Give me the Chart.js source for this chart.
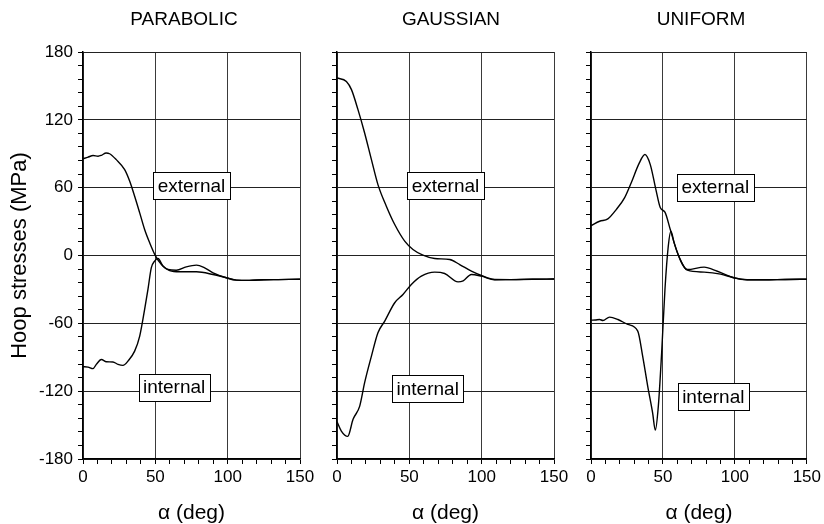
<!DOCTYPE html>
<html><head><meta charset="utf-8">
<script src="https://cdn.jsdelivr.net/npm/chart.js@4.4.1/dist/chart.umd.min.js"></script>
<style>
html,body{margin:0;padding:0;background:#fff;}
#wrap{position:relative;width:824px;height:524px;background:#fff;}
canvas{position:absolute;left:0;top:0;}
</style></head><body>
<div id="wrap">
<canvas id="c0" width="824" height="524"></canvas>
<canvas id="c1" width="824" height="524"></canvas>
<canvas id="c2" width="824" height="524"></canvas>
</div>
<script>
// ---------- data ----------
const panelTitles = ['PARABOLIC', 'GAUSSIAN', 'UNIFORM'];
const xAxisTitle = 'α (deg)';
const yAxisTitle = 'Hoop stresses (MPa)';
const seriesNames = ['external', 'internal'];

// PARABOLIC
const parExtAlpha = [0, 3.5, 7, 10.4, 12.7, 16, 18.4, 23, 28.8, 32.3, 35.7, 39.2, 42.6, 46.1, 50.2, 54.2, 58.8, 64.5, 71.4, 78.4, 84.1, 89.9, 99.1, 106, 115, 125, 135, 150];
const parExtStress = [85.5, 87, 88.4, 87.8, 88.6, 90.7, 90, 84.8, 76, 65.7, 52.4, 37.7, 23, 11.2, -0.6, -8, -12.4, -13, -10, -8.5, -10.9, -15.3, -19.7, -21.8, -22, -21.5, -21.3, -21];
const parIntAlpha = [0, 3.5, 6.9, 9.2, 12.7, 16.1, 20.7, 24.2, 27.6, 31.1, 35.7, 39.2, 42.6, 44.9, 47.2, 49.5, 51.8, 55.3, 59.9, 66.8, 78.4, 89.9, 99.1, 106, 115, 125, 135, 150];
const parIntStress = [-98.4, -98.7, -100.1, -96.3, -92, -94, -94.2, -96.3, -97.2, -93.4, -84.6, -71.3, -47.7, -30, -10.9, -5, -2.7, -9.4, -13.3, -14.4, -14.4, -16.8, -19.7, -21.8, -22, -21.5, -21.3, -21];

// GAUSSIAN
const gauExtAlpha = [0, 6.5, 10, 14.5, 19.1, 23.8, 28.3, 34.1, 39.9, 46.8, 52.5, 59.4, 67.5, 77.9, 84.8, 92.9, 99.8, 109, 120, 135, 150];
const gauExtStress = [157, 154, 146.7, 129, 108.4, 84.8, 62.7, 43.6, 27.4, 12.7, 5.3, 0.3, -2.7, -3.5, -8, -13.9, -17.7, -21.2, -21.3, -21, -20.8];
const gauIntAlpha = [0, 3, 7.4, 11.1, 15.7, 19.1, 23.8, 28.3, 33, 39.9, 45.6, 51.4, 58.3, 67.5, 74.4, 83.7, 87.2, 92.9, 99.8, 109, 120, 135, 150];
const gauIntStress = [-147, -155.3, -160, -144.9, -133.2, -112.5, -89, -68.3, -58, -41.8, -34.5, -25.6, -18.3, -14.7, -15.9, -23.3, -22.4, -16.8, -18.3, -21.5, -21.3, -21, -20.8];

// UNIFORM
const uniExtAlpha = [0, 6, 11.7, 17.5, 23.3, 27.9, 33.6, 37.5, 41.2, 45.1, 48.2, 51.4, 55.1, 60.1, 67, 78.6, 87.8, 99.3, 108.5, 120, 135, 150];
const uniExtStress = [26.5, 30.3, 32.4, 40.6, 51, 64.2, 81.9, 89.3, 80.4, 58.3, 42.2, 38.3, 23, 2.4, -12.4, -10.3, -13.9, -19.7, -21.5, -21.5, -21.2, -21];
const uniIntAlpha = [0, 3, 6, 8.3, 12.9, 18.7, 25.6, 32.5, 35.9, 39.4, 42.8, 44.7, 46.8, 49.1, 51.4, 53.7, 55.5, 57.8, 62.4, 67, 78.6, 90.1, 99.3, 108.5, 120, 135, 150];
const uniIntStress = [-57.2, -57, -56.6, -57.5, -54.5, -56.6, -61, -66.9, -89, -115.5, -139, -154.5, -133.2, -86, -30, 8.2, 21.5, 11.2, -5, -13, -14.7, -16.5, -19.7, -21.5, -21.5, -21.2, -21];

// axis ranges & ticks
const xMin = 0, xMax = 150, xMinorStep = 10, xMajorStep = 50;
const yMin = -180, yMax = 180, yMinorStep = 12, yMajorStep = 60;

// in-plot label anchors (data coordinates: alpha, stress)
const extLabelAlpha = [75, 75, 86.4];
const extLabelStress = [62, 62, 60.4];
const intLabelAlpha = [63, 62.7, 85];
const intLabelStress = [-116.5, -117.8, -124.6];

// ---------- layout ----------
const FONT = '"Liberation Sans", Arial, Helvetica, sans-serif';
const panelLeft = [83, 337, 591];
const panelRight = [300, 554, 807];
const titleCenterX = [184, 451, 701];
const W = 824, H = 524, TOP = 52, XAXIS_H = 65;

const series = [
  [[parExtAlpha, parExtStress], [parIntAlpha, parIntStress]],
  [[gauExtAlpha, gauExtStress], [gauIntAlpha, gauIntStress]],
  [[uniExtAlpha, uniExtStress], [uniIntAlpha, uniIntStress]]
];

function toPoints(xs, ys) { return xs.map((x, k) => ({x: x, y: ys[k]})); }

const annotPlugin = {
  id: 'annot',
  afterDatasetsDraw(chart) {
    const i = chart.options.panelIndex;
    const {ctx, scales} = chart;
    ctx.save();
    ctx.font = '19px ' + FONT;
    ctx.textAlign = 'center';
    ctx.textBaseline = 'middle';
    const labs = [
      [seriesNames[0], extLabelAlpha[i], extLabelStress[i]],
      [seriesNames[1], intLabelAlpha[i], intLabelStress[i]]
    ];
    for (const [txt, ax, sy] of labs) {
      const px = scales.x.getPixelForValue(ax);
      const py = scales.y.getPixelForValue(sy);
      const tw = ctx.measureText(txt).width;
      const bw = Math.round(tw + 9), bh = 27;
      const bx = Math.round(px - bw / 2) + 0.5, by = Math.round(py - bh / 2) + 0.5;
      ctx.fillStyle = '#fff';
      ctx.fillRect(bx, by, bw, bh);
      ctx.strokeStyle = '#000';
      ctx.lineWidth = 1;
      ctx.strokeRect(bx, by, bw, bh);
      ctx.fillStyle = '#000';
      ctx.fillText(txt, px, py + 1);
    }
    ctx.restore();
  },
  afterDraw(chart) {
    const i = chart.options.panelIndex;
    const ctx = chart.ctx;
    ctx.save();
    ctx.font = '19px ' + FONT;
    ctx.fillStyle = '#000';
    ctx.textAlign = 'center';
    ctx.textBaseline = 'middle';
    ctx.fillText(panelTitles[i], titleCenterX[i], 20);
    ctx.restore();
  }
};

function makeChart(i) {
  const yAxisW = i === 0 ? panelLeft[0] : 10;
  const datasets = series[i].map((s, k) => ({
    label: seriesNames[k],
    data: toPoints(s[0], s[1]),
    borderColor: '#000',
    borderWidth: 1.4,
    pointRadius: 0,
    fill: false,
    cubicInterpolationMode: 'monotone'
  }));
  return new Chart(document.getElementById('c' + i), {
    type: 'line',
    data: {datasets},
    options: {
      panelIndex: i,
      responsive: false,
      animation: false,
      devicePixelRatio: 1,
      layout: {padding: {left: panelLeft[i] - yAxisW, right: W - panelRight[i], top: TOP, bottom: 0}},
      plugins: {legend: {display: false}, tooltip: {enabled: false}, title: {display: false}},
      scales: {
        x: {
          type: 'linear', min: xMin, max: xMax,
          ticks: {
            stepSize: xMinorStep, autoSkip: false, maxRotation: 0, padding: 3,
            color: '#000', font: {size: 17, family: FONT},
            callback: v => (v % xMajorStep === 0 ? String(v) : '')
          },
          grid: {
            color: c => (c.tick && c.tick.value % xMajorStep === 0 ? '#3a3a3a' : 'rgba(0,0,0,0)'),
            tickColor: '#000', tickLength: 5, lineWidth: 1
          },
          border: {color: '#000', width: 1.5},
          title: {display: true, text: xAxisTitle, color: '#000', font: {size: 21, family: FONT}, padding: {top: 0, bottom: -2}},
          afterFit: s => { s.height = XAXIS_H; }
        },
        y: {
          type: 'linear', min: yMin, max: yMax,
          ticks: {
            stepSize: yMinorStep, autoSkip: false, padding: 5,
            color: '#000', font: {size: 17, family: FONT},
            callback: v => (i === 0 && v % yMajorStep === 0 ? String(v) : '')
          },
          grid: {
            color: c => (c.tick && c.tick.value % yMajorStep === 0 ? '#222' : 'rgba(0,0,0,0)'),
            tickColor: '#000', tickLength: 5, lineWidth: 1
          },
          border: {color: '#000', width: 1.5},
          title: {display: i === 0, text: yAxisTitle, color: '#000', font: {size: 22, family: FONT}, padding: {top: 7, bottom: 0}},
          afterFit: s => { s.width = yAxisW; }
        }
      }
    },
    plugins: [annotPlugin]
  });
}

[0, 1, 2].forEach(makeChart);
</script>
</body></html>
